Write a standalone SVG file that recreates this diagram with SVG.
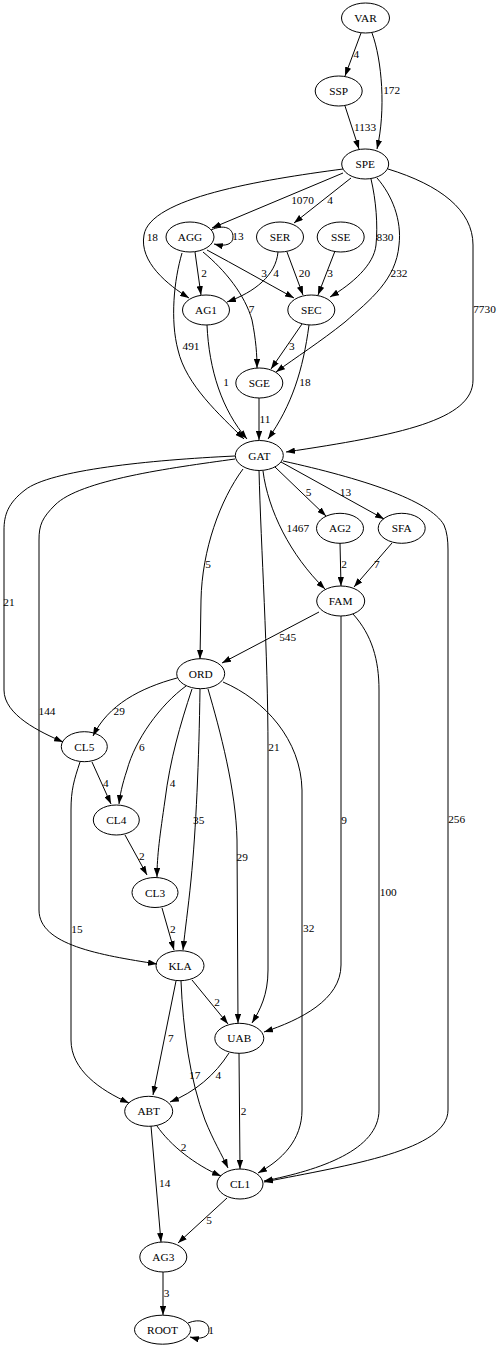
<svg xmlns="http://www.w3.org/2000/svg" width="500" height="1349" viewBox="0 0 500 1349">
<style>
text{font-family:"Liberation Serif","Times New Roman",serif;font-size:11.3px;fill:#000;text-anchor:middle}
.node ellipse{fill:none;stroke:#000;stroke-width:1}
#edges path{fill:none;stroke:#000;stroke-width:1}
#edges path.a{marker-end:url(#ah)}
</style>
<defs>
<marker id="ah" viewBox="0 0 10 7" refX="10" refY="3.5" markerWidth="9" markerHeight="6.4" markerUnits="userSpaceOnUse" orient="auto"><path d="M0,0 L10,3.5 L0,7 z" fill="#000"/></marker>
</defs>
<rect width="500" height="1349" fill="#fff"/>
<g id="edges">
<path class="a" d="M361,33 L345,76"/><text x="356.3" y="58.3">4</text>
<path class="a" d="M372,33 C382,60 386,110 377,149"/><text x="391.7" y="94">172</text>
<path class="a" d="M345,106 L359,149"/><text x="365" y="131">1133</text>
<path class="a" d="M343,173 L212,228"/><text x="302.5" y="204">1070</text>
<path class="a" d="M351,178 L294,223"/><text x="330" y="204">4</text>
<path class="a" d="M343,169 C260,180 150,198 144,235 C139,262 168,285 189,298"/><text x="152.3" y="240.7">18</text>
<path class="a" d="M371,179 C376,200 378,225 376,245 C374,265 352,284 330,297"/><text x="385" y="240.7">830</text>
<path class="a" d="M377,178 C392,195 402,220 399,245 C396,280 370,300 345,322 C320,342 295,358 276,372"/><text x="399" y="276.7">232</text>
<path class="a" d="M388,169 C440,185 473,210 473,245 L473,380 C473,420 400,435 286,452"/><text x="484.5" y="313.3">7730</text>
<path class="a" d="M211,230 C224,224 233,228 233,237 C233,244 226,247 214,244"/><text x="238" y="240">13</text>
<path class="a" d="M195,252 L201,295"/><text x="204" y="276.7">2</text>
<path class="a" d="M207,250 C235,265 265,282 294,298"/><text x="264" y="276.7">3</text>
<path class="a" d="M203,252 C225,270 245,295 252,320 C256,340 257,355 257,368"/><text x="251.5" y="313.3">7</text>
<path class="a" d="M182,253 C174,280 170,320 178,350 C186,385 220,415 244,439"/><text x="191" y="349.7">491</text>
<path class="a" d="M278,252 C276,275 255,292 227,302"/><text x="276" y="276.7">4</text>
<path class="a" d="M287,252 L303,295"/><text x="304.5" y="276.7">20</text>
<path class="a" d="M335,251 L318,295"/><text x="330" y="276.7">3</text>
<path class="a" d="M207,325 C209,370 222,410 247,439"/><text x="226" y="386.3">1</text>
<path class="a" d="M302,324 L271,369"/><text x="291.8" y="349.7">3</text>
<path class="a" d="M309,325 C303,370 292,405 268,439"/><text x="305" y="386.3">18</text>
<path class="a" d="M259,398 L259,440"/><text x="265" y="423">11</text>
<path class="a" d="M235,456 C150,460 50,470 25,490 C8,503 4,515 4,530 L4,690 C4,715 40,732 63,742"/><text x="9" y="605.7">21</text>
<path class="a" d="M235,459 C170,468 80,480 55,505 C42,518 39,525 39,540 L39,910 C39,945 100,955 157,964"/><text x="47" y="714.7">144</text>
<path class="a" d="M243,469 C220,500 202,550 201,600 L200,659"/><text x="208.2" y="568.3">5</text>
<path class="a" d="M259,470 C261,550 268,650 268,750 L268,970 C268,995 260,1010 252,1023"/><text x="274" y="750.7">21</text>
<path class="a" d="M263,471 C268,510 290,555 325,589"/><text x="297.8" y="532.3">1467</text>
<path class="a" d="M275,467 L326,516"/><text x="308.5" y="495.7">5</text>
<path class="a" d="M281,462 L384,519"/><text x="345.5" y="495.7">13</text>
<path class="a" d="M283,461 C360,478 430,500 444,525 C447,532 448,540 448,550 L448,1110 C448,1150 350,1165 264,1182"/><text x="456.7" y="823.3">256</text>
<path class="a" d="M340,543 L341,586"/><text x="344" y="568.3">2</text>
<path class="a" d="M392,543 L354,587"/><text x="376.8" y="568.3">7</text>
<path class="a" d="M319,612 L222,663"/><text x="287.7" y="641.3">545</text>
<path class="a" d="M341,616 L341,965 C341,1000 300,1020 264,1032"/><text x="344" y="824">9</text>
<path class="a" d="M353,614 C372,635 379,660 379,690 L379,1110 C379,1150 320,1170 264,1181"/><text x="388.3" y="896.3">100</text>
<path class="a" d="M177,678 C140,688 108,705 93,736"/><text x="119.2" y="714.7">29</text>
<path class="a" d="M186,686 C160,705 135,740 127,770 C122,785 120,795 119,804"/><text x="141.8" y="750.7">6</text>
<path class="a" d="M192,689 C180,725 170,760 165,800 C160,835 157,855 157,877"/><text x="172.5" y="787.3">4</text>
<path class="a" d="M200,689 C199,760 196,830 191,880 C188,910 185,930 183,950"/><text x="198.7" y="824">35</text>
<path class="a" d="M208,689 C220,730 236,790 237,840 L238,1023"/><text x="242.2" y="860.7">29</text>
<path class="a" d="M223,682 C265,700 301,740 302,790 L302,1110 C302,1140 282,1160 258,1173"/><text x="308.7" y="932.3">32</text>
<path class="a" d="M92,762 L111,804"/><text x="105.8" y="787.3">4</text>
<path class="a" d="M80,762 C74,780 71,790 71,810 L71,1040 C71,1070 100,1090 129,1103"/><text x="77" y="933">15</text>
<path class="a" d="M125,835 L147,875"/><text x="141.8" y="859.7">2</text>
<path class="a" d="M162,908 L174,950"/><text x="172.8" y="933">2</text>
<path class="a" d="M192,980 L228,1024"/><text x="217.2" y="1005.7">2</text>
<path class="a" d="M176,981 L153,1095"/><text x="170.8" y="1042.3">7</text>
<path class="a" d="M181,981 C183,1030 190,1080 205,1120 C213,1140 222,1155 228,1168"/><text x="194.7" y="1079">17</text>
<path class="a" d="M229,1053 C215,1075 195,1092 170,1102"/><text x="218.3" y="1079">4</text>
<path class="a" d="M239,1053 L240,1169"/><text x="243.7" y="1114.7">2</text>
<path class="a" d="M157,1126 C170,1145 195,1165 221,1176"/><text x="183.5" y="1151.3">2</text>
<path class="a" d="M151,1126 L161,1242"/><text x="164.7" y="1187.3">14</text>
<path class="a" d="M227,1198 L178,1243"/><text x="209.2" y="1224">5</text>
<path class="a" d="M163,1272 L163,1315"/><text x="166.5" y="1297.3">3</text>
<path class="a" d="M188,1323 C200,1318 209,1322 209,1330 C209,1337 201,1340 190,1337"/><text x="211" y="1334">1</text>
</g>
<g id="VAR" class="node"><ellipse cx="365.5" cy="18" rx="24" ry="15"/><text x="365.5" y="22">VAR</text></g>
<g id="SSP" class="node"><ellipse cx="338.7" cy="91" rx="23.5" ry="15"/><text x="338.7" y="95">SSP</text></g>
<g id="SPE" class="node"><ellipse cx="365.2" cy="164" rx="23.5" ry="15"/><text x="365.2" y="168">SPE</text></g>
<g id="AGG" class="node"><ellipse cx="190" cy="237" rx="24" ry="15"/><text x="190" y="241">AGG</text></g>
<g id="SER" class="node"><ellipse cx="280" cy="237" rx="23.5" ry="15"/><text x="280" y="241">SER</text></g>
<g id="SSE" class="node"><ellipse cx="340.7" cy="237" rx="23.5" ry="15"/><text x="340.7" y="241">SSE</text></g>
<g id="AG1" class="node"><ellipse cx="206" cy="310" rx="23.5" ry="15"/><text x="206" y="314">AG1</text></g>
<g id="SEC" class="node"><ellipse cx="311.3" cy="310" rx="23.5" ry="15"/><text x="311.3" y="314">SEC</text></g>
<g id="SGE" class="node"><ellipse cx="259.3" cy="383" rx="23.5" ry="15"/><text x="259.3" y="387">SGE</text></g>
<g id="GAT" class="node"><ellipse cx="259.3" cy="455.5" rx="24" ry="15"/><text x="259.3" y="459.5">GAT</text></g>
<g id="AG2" class="node"><ellipse cx="340" cy="528.3" rx="23.5" ry="15"/><text x="340" y="532.3">AG2</text></g>
<g id="SFA" class="node"><ellipse cx="401.7" cy="528.3" rx="23.5" ry="15"/><text x="401.7" y="532.3">SFA</text></g>
<g id="FAM" class="node"><ellipse cx="340.7" cy="601" rx="24" ry="15"/><text x="340.7" y="605">FAM</text></g>
<g id="ORD" class="node"><ellipse cx="200.7" cy="673.7" rx="24" ry="15"/><text x="200.7" y="677.7">ORD</text></g>
<g id="CL5" class="node"><ellipse cx="84.3" cy="746.7" rx="23" ry="15"/><text x="84.3" y="750.7">CL5</text></g>
<g id="CL4" class="node"><ellipse cx="116.3" cy="820" rx="23" ry="15"/><text x="116.3" y="824">CL4</text></g>
<g id="CL3" class="node"><ellipse cx="155" cy="892.5" rx="23" ry="15"/><text x="155" y="896.5">CL3</text></g>
<g id="KLA" class="node"><ellipse cx="180" cy="965.7" rx="24" ry="15"/><text x="180" y="969.7">KLA</text></g>
<g id="UAB" class="node"><ellipse cx="239.3" cy="1038.3" rx="24.5" ry="15"/><text x="239.3" y="1042.3">UAB</text></g>
<g id="ABT" class="node"><ellipse cx="148.7" cy="1111.3" rx="24" ry="15"/><text x="148.7" y="1115.3">ABT</text></g>
<g id="CL1" class="node"><ellipse cx="240" cy="1184" rx="23" ry="15"/><text x="240" y="1188">CL1</text></g>
<g id="AG3" class="node"><ellipse cx="163.3" cy="1257" rx="23.5" ry="15"/><text x="163.3" y="1261">AG3</text></g>
<g id="ROOT" class="node"><ellipse cx="162.5" cy="1329.7" rx="28" ry="14.5"/><text x="162.5" y="1333.7">ROOT</text></g>
</svg>
